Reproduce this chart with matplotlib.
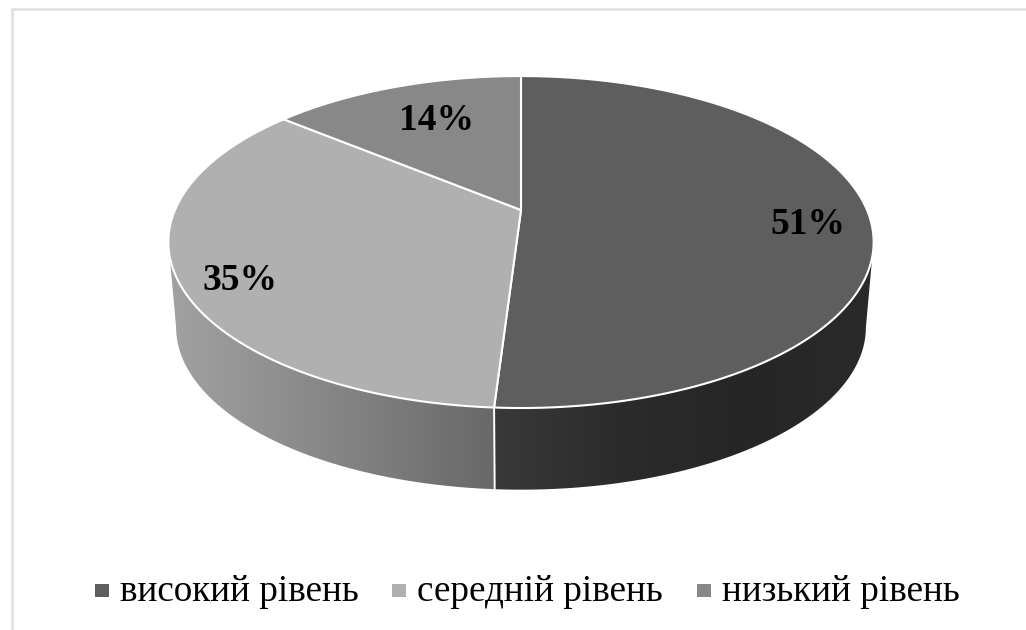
#!/usr/bin/env python3
"""3D-style pie of level shares with a legend row underneath."""
import numpy as np
import matplotlib
matplotlib.use("Agg")
import matplotlib.pyplot as plt
from matplotlib.colors import LinearSegmentedColormap
from matplotlib.patches import Polygon, Rectangle

labels = ["високий рівень", "середній рівень", "низький рівень"]
shares = [51, 35, 14]
top_colors = ["#5e5e5e", "#b0b0b0", "#888888"]

# pie geometry in pixels
CX, APEX_Y = 521.0, 210.0
A, B, K = 346.0, 159.8, -0.193
BASE_SCALE, BASE_APEX_Y = 0.978, 296.0

plt.rcParams["font.family"] = ["Liberation Serif", "DejaVu Serif"]


def rim(theta, scale=1.0, apex_y=APEX_Y):
    # theta runs clockwise from 12 o'clock; front of the disc is drawn larger
    u, v = np.sin(theta), -np.cos(theta)
    d = 1 + K * v
    return np.column_stack([CX + scale * A * u / d, apex_y + scale * B * v / d])


def draw_side(ax, t0, t1, stops):
    t = np.linspace(t0, t1, 200)
    pts = np.vstack([rim(t), rim(t[::-1], BASE_SCALE, BASE_APEX_Y)])
    poly = Polygon(pts, closed=True, facecolor="none", edgecolor="none")
    ax.add_patch(poly)
    x0, x1 = pts[:, 0].min(), pts[:, 0].max()
    cmap = LinearSegmentedColormap.from_list("side", stops)
    grad = np.linspace(0, 1, 256).reshape(1, -1)
    im = ax.imshow(grad, cmap=cmap, extent=(x0, x1, 500, 200), aspect="auto", zorder=1)
    im.set_clip_path(poly)


fig = plt.figure(figsize=(10.26, 6.3), dpi=100)
ax = fig.add_axes([0, 0, 1, 1])

# outer frame runs off the right and bottom edges
ax.add_patch(Rectangle((11.5, 8.5), 1030, 640, facecolor="white", edgecolor="#e0e0e0", lw=1.9))

edges = 2 * np.pi * np.cumsum([0] + shares) / sum(shares)

# side wall is visible from the right-hand extreme round to the left-hand one
widest_r = np.arccos(K)
widest_l = 2 * np.pi - widest_r
draw_side(ax, widest_r, edges[1], ["#393939", "#2b2b2b", "#262626", "#2a2a2a"])
draw_side(ax, edges[1], widest_l, ["#a2a2a2", "#868686", "#686868"])

# seam between the two visible side walls
seam = np.vstack([rim(edges[1]), rim(edges[1], BASE_SCALE, BASE_APEX_Y)])
ax.plot(seam[:, 0], seam[:, 1], color="white", lw=1.4, zorder=2)

for i, color in enumerate(top_colors):
    t = np.linspace(edges[i], edges[i + 1], 200)
    pts = np.vstack([[CX, APEX_Y], rim(t)])
    ax.add_patch(Polygon(pts, closed=True, facecolor=color, edgecolor="white",
                         lw=1.5, joinstyle="round", zorder=3))

for txt, x, y in zip(shares, [808, 240, 436], [225, 281, 120]):
    ax.text(x, y, f"{txt}%", ha="center", va="center", fontsize=27,
            fontweight="bold", color="black", zorder=4)

for label, color, mx, tx in zip(labels, top_colors, [95, 392, 697], [120, 417, 722]):
    ax.add_patch(Rectangle((mx, 584), 14, 13, facecolor=color, edgecolor="none"))
    ax.text(tx, 601, label, ha="left", va="baseline", fontsize=26.7, color="black")

ax.set_xlim(0, 1026)
ax.set_ylim(630, 0)
ax.axis("off")
fig.savefig("out.png", dpi=100)
